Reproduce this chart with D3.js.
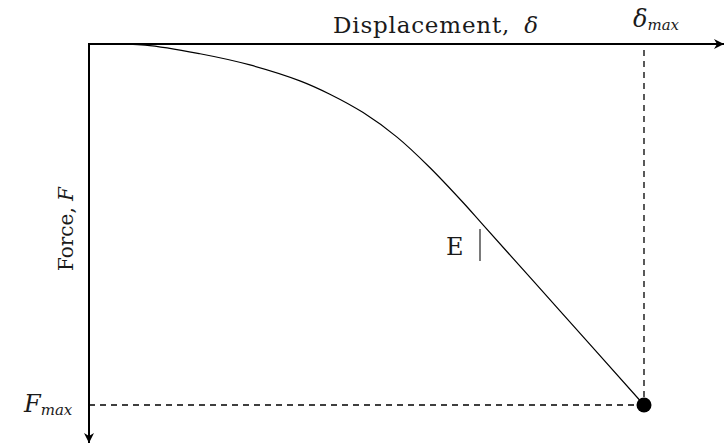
<!DOCTYPE html>
<html>
<head>
<meta charset="utf-8">
<title>Force vs displacement</title>
<style>
  body { margin: 0; background: #fff; }
  .lbl { font-family: "DejaVu Serif", serif; fill: #1a1a1a; }
</style>
</head>
<body>
<div id="chart"></div>
<script src="https://d3js.org/d3.v7.min.js"></script>
<script>
// curve (normalised: delta/delta_max, F/F_max)
var displacement = [0, 0.101, 0.200, 0.290, 0.380, 0.434, 0.494, 0.555, 0.614, 0.674, 0.710, 0.849, 1];
var force        = [0, 0.003, 0.027, 0.058, 0.102, 0.139, 0.190, 0.258, 0.342, 0.439, 0.501, 0.740, 1];
var peak = {d: 1, f: 1};
var xLabel = "Displacement, ";
var yLabel = "Force, ";

var W = 727, H = 446;
var svg = d3.select("#chart").append("svg")
  .attr("width", W).attr("height", H);

// origin top-left, force grows downward
var x = d3.scaleLinear().domain([0, 1]).range([89, 644]);
var y = d3.scaleLinear().domain([0, 1]).range([44, 405]);
var xEnd = x.invert(724), yEnd = y.invert(443);

var defs = svg.append("defs");
defs.append("marker")
  .attr("id", "arr").attr("viewBox", "0 0 10 10")
  .attr("refX", 10).attr("refY", 5)
  .attr("markerWidth", 5).attr("markerHeight", 5)
  .attr("orient", "auto")
  .append("path").attr("d", "M0,0 L10,5 L0,10 L3,5 Z").attr("fill", "#000");

// axes
svg.append("line")
  .attr("x1", x(0)).attr("y1", y(0)).attr("x2", x(xEnd)).attr("y2", y(0))
  .attr("stroke", "#000").attr("stroke-width", 2)
  .attr("marker-end", "url(#arr)");
svg.append("line")
  .attr("x1", x(0)).attr("y1", y(0) - 1).attr("x2", x(0)).attr("y2", y(yEnd))
  .attr("stroke", "#000").attr("stroke-width", 2)
  .attr("marker-end", "url(#arr)");

// dashed guides to the peak
svg.append("line")
  .attr("x1", x(0)).attr("y1", y(peak.f)).attr("x2", x(peak.d)).attr("y2", y(peak.f))
  .attr("stroke", "#000").attr("stroke-width", 1.3).attr("stroke-dasharray", "6,5");
svg.append("line")
  .attr("x1", x(peak.d)).attr("y1", y(0) + 6).attr("x2", x(peak.d)).attr("y2", y(peak.f))
  .attr("stroke", "#000").attr("stroke-width", 1.3).attr("stroke-dasharray", "6,5");

// curve
var pts = displacement.map(function(d, i) { return [d, force[i]]; });
svg.append("path")
  .datum(pts)
  .attr("fill", "none").attr("stroke", "#000").attr("stroke-width", 1.2)
  .attr("d", d3.line()
    .x(function(d) { return x(d[0]); })
    .y(function(d) { return y(d[1]); })
    .curve(d3.curveCatmullRom.alpha(0.5)));

svg.append("circle")
  .attr("cx", x(peak.d)).attr("cy", y(peak.f)).attr("r", 7.5).attr("fill", "#000");

// stiffness marker
svg.append("line")
  .attr("x1", 480).attr("y1", 229).attr("x2", 480).attr("y2", 261)
  .attr("stroke", "#222").attr("stroke-width", 1.2);
svg.append("text").attr("class", "lbl")
  .attr("x", 446).attr("y", 255).attr("font-size", 24).text("E");

// axis titles
var xt = svg.append("text").attr("class", "lbl")
  .attr("x", 333).attr("y", 33).attr("font-size", 23).attr("letter-spacing", 0.8);
xt.append("tspan").text(xLabel);
xt.append("tspan").attr("dx", 6).attr("font-style", "italic").text("δ");

var dm = svg.append("text").attr("class", "lbl")
  .attr("x", 633).attr("y", 27).attr("font-size", 24);
dm.append("tspan").attr("font-style", "italic").text("δ");
dm.append("tspan").attr("font-style", "italic").attr("font-size", 15).attr("dy", 3).text("max");

var yt = svg.append("text").attr("class", "lbl")
  .attr("transform", "translate(73,229) rotate(-90)")
  .attr("text-anchor", "middle").attr("font-size", 20);
yt.append("tspan").text(yLabel);
yt.append("tspan").attr("font-style", "italic").text("F");

var fm = svg.append("text").attr("class", "lbl")
  .attr("x", 24).attr("y", 412).attr("font-size", 24);
fm.append("tspan").attr("font-style", "italic").text("F");
fm.append("tspan").attr("font-style", "italic").attr("font-size", 15).attr("dy", 3).text("max");
</script>
</body>
</html>
